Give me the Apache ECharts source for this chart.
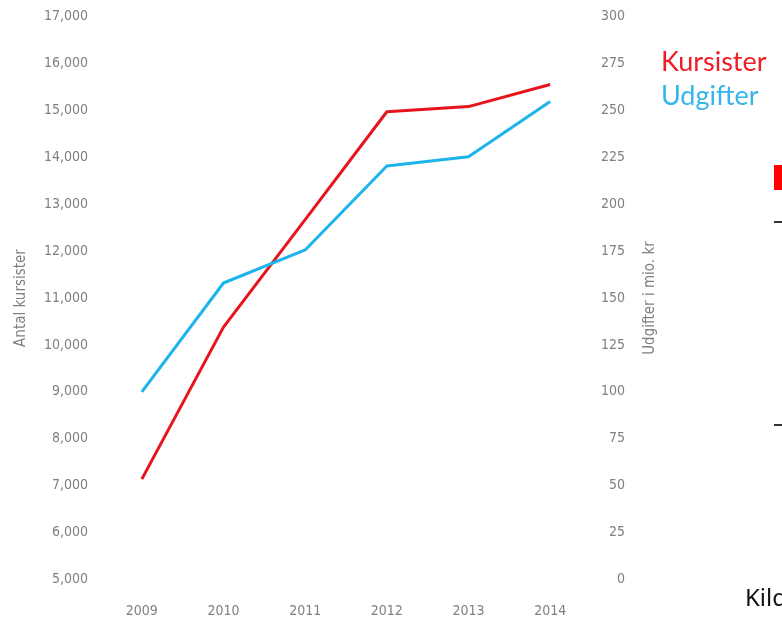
<!DOCTYPE html>
<html>
<head>
<meta charset="utf-8">
<script src="https://cdn.jsdelivr.net/npm/echarts@6/dist/echarts.min.js"></script>
<style>
  html, body { margin: 0; padding: 0; background: #fff; }
  #main { width: 782px; height: 619px; }
</style>
</head>
<body>
<div id="main"></div>
<script>
var years = ['2009', '2010', '2011', '2012', '2013', '2014'];
var kursister = [7140, 10380, 12670, 14970, 15080, 15550];
var udgifter = [100, 158, 175.6, 220.3, 225.3, 254.7];

var labelFont = "'Liberation Sans Narrow', 'DejaVu Sans Condensed', sans-serif";
var gray = '#808080';

var chart = echarts.init(document.getElementById('main'));
var option = {
    backgroundColor: '#fff',
    animation: false,
    grid: { left: 101, right: 191, top: 16.5, bottom: 39.5 },
    legend: {
        orient: 'vertical',
        left: 651,
        top: 44,
        icon: 'none',
        itemWidth: 0,
        itemGap: 7,
        textStyle: { fontFamily: 'Lato, sans-serif', fontSize: 27 },
        data: [
            { name: 'Kursister', textStyle: { color: '#ee1c25' } },
            { name: 'Udgifter', textStyle: { color: '#36b5ec' } }
        ]
    },
    xAxis: {
        type: 'category',
        data: years,
        axisLine: { show: false },
        axisTick: { show: false },
        axisLabel: { color: gray, fontFamily: labelFont, fontSize: 14, margin: 25 }
    },
    yAxis: [
        {
            type: 'value',
            min: 5000,
            max: 17000,
            interval: 1000,
            name: 'Antal kursister',
            nameLocation: 'middle',
            nameGap: 72,
            nameTextStyle: { color: gray, fontFamily: labelFont, fontSize: 15 },
            splitLine: { show: false },
            axisLine: { show: false },
            axisTick: { show: false },
            axisLabel: {
                color: gray, fontFamily: labelFont, fontSize: 14, margin: 13,
                formatter: function (v) { return v.toLocaleString('en-US'); }
            }
        },
        {
            type: 'value',
            min: 0,
            max: 300,
            interval: 25,
            position: 'right',
            name: 'Udgifter i mio. kr',
            nameLocation: 'middle',
            nameGap: 52,
            nameTextStyle: { color: gray, fontFamily: labelFont, fontSize: 15 },
            splitLine: { show: false },
            axisLine: { show: false },
            axisTick: { show: false },
            axisLabel: { color: gray, fontFamily: labelFont, fontSize: 14, margin: 34, align: 'right' }
        }
    ],
    series: [
        {
            name: 'Kursister',
            type: 'line',
            yAxisIndex: 0,
            data: kursister,
            symbol: 'none',
            lineStyle: { color: '#e8141b', width: 3 },
            itemStyle: { color: '#e8141b' }
        },
        {
            name: 'Udgifter',
            type: 'line',
            yAxisIndex: 1,
            data: udgifter,
            symbol: 'none',
            lineStyle: { color: '#1db4ec', width: 3 },
            itemStyle: { color: '#1db4ec' }
        }
    ],
    graphic: [
        { type: 'rect', left: 774, top: 165, shape: { width: 8, height: 25 }, style: { fill: '#ff0000' } },
        { type: 'rect', left: 774, top: 221, shape: { width: 8, height: 2 }, style: { fill: '#333' } },
        { type: 'rect', left: 774, top: 424, shape: { width: 8, height: 2 }, style: { fill: '#333' } },
        { type: 'text', left: 745, top: 587, style: { text: 'Kilde', fill: '#111', font: "24px 'Noto Sans', sans-serif" } }
    ]
};
chart.setOption(option);
</script>
</body>
</html>
